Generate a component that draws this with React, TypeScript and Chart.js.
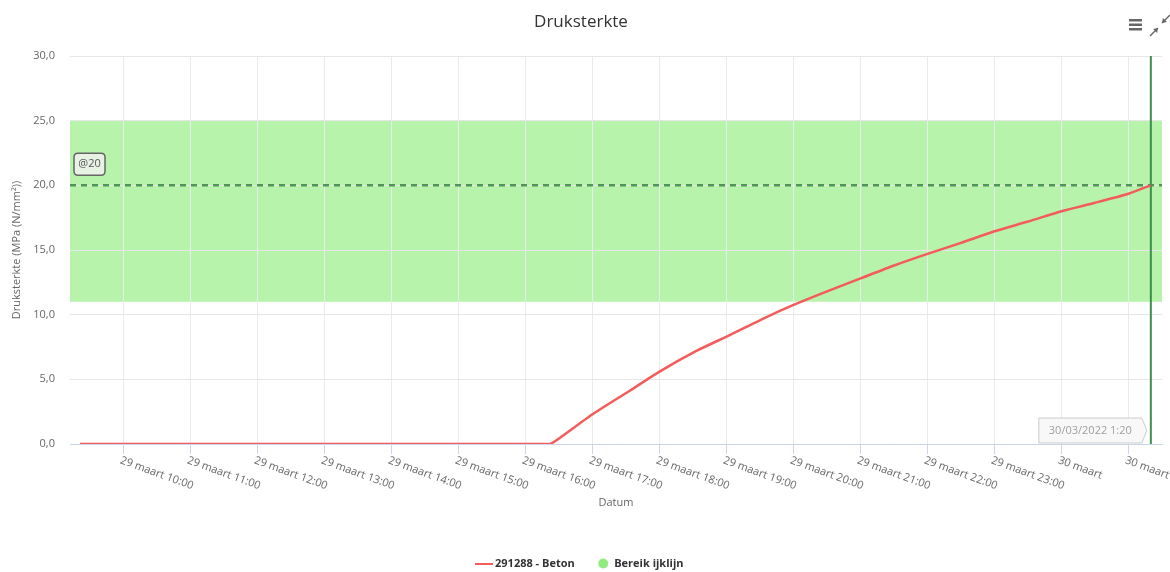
import React, { useEffect, useRef } from 'react';
import { Chart, registerables } from 'chart.js';

Chart.register(...registerables);

const FONT = '"Open Sans", "DejaVu Sans", sans-serif';

const chartTitle = 'Druksterkte';
const yAxisTitle = 'Druksterkte (MPa (N/mm²))';
const xAxisTitle = 'Datum';

// x axis in hours since 29 maart 00:00
const xMinHour = 9.2;
const xMaxHour = 25.5;
const xTickHours = [10, 11, 12, 13, 14, 15, 16, 17, 18, 19, 20, 21, 22, 23, 24, 25];
const xTickLabels = [
  '29 maart 10:00', '29 maart 11:00', '29 maart 12:00', '29 maart 13:00',
  '29 maart 14:00', '29 maart 15:00', '29 maart 16:00', '29 maart 17:00',
  '29 maart 18:00', '29 maart 19:00', '29 maart 20:00', '29 maart 21:00',
  '29 maart 22:00', '29 maart 23:00', '30 maart', '30 maart 01:00',
];
const yTicks = [0, 5, 10, 15, 20, 25, 30];

// Series: 291288 - Beton
const betonHours = [9.35, 16.36, 16.45, 17.0, 17.55, 18.0, 18.55, 19.0, 19.55, 20.0, 20.5, 21.0, 21.5, 22.0, 22.5, 23.0, 23.5, 24.0, 24.5, 25.0, 25.33];
const betonValues = [0, 0, 0.25, 2.3, 4.1, 5.6, 7.2, 8.3, 9.7, 10.75, 11.8, 12.8, 13.8, 14.7, 15.55, 16.45, 17.2, 18.0, 18.65, 19.35, 20.0];

// Bereik ijklijn (band)
const bandLow = 11;
const bandHigh = 25;
const targetValue = 20;
const targetLabel = '@20';
const measureHour = 25 + 20 / 60;
const measureLabel = '30/03/2022 1:20';

const legendLabels = ['291288 - Beton', 'Bereik ijklijn'];

const RED = '#f45b5b';
const GREEN = '#90ed7d';

function roundRect(ctx: CanvasRenderingContext2D, x: number, y: number, w: number, h: number, r: number) {
  ctx.beginPath();
  ctx.moveTo(x + r, y);
  ctx.lineTo(x + w - r, y);
  ctx.quadraticCurveTo(x + w, y, x + w, y + r);
  ctx.lineTo(x + w, y + h - r);
  ctx.quadraticCurveTo(x + w, y + h, x + w - r, y + h);
  ctx.lineTo(x + r, y + h);
  ctx.quadraticCurveTo(x, y + h, x, y + h - r);
  ctx.lineTo(x, y + r);
  ctx.quadraticCurveTo(x, y, x + r, y);
  ctx.closePath();
}

function arrow(ctx: CanvasRenderingContext2D, x1: number, y1: number, x2: number, y2: number) {
  ctx.beginPath();
  ctx.moveTo(x1, y1);
  ctx.lineTo(x2, y2);
  ctx.stroke();
  const a = Math.atan2(y2 - y1, x2 - x1);
  const L = 5;
  ctx.beginPath();
  ctx.moveTo(x2, y2);
  ctx.lineTo(x2 - L * Math.cos(a - 0.6), y2 - L * Math.sin(a - 0.6));
  ctx.lineTo(x2 - L * Math.cos(a + 0.6), y2 - L * Math.sin(a + 0.6));
  ctx.closePath();
  ctx.fill();
}

const decorPlugin = {
  id: 'decor',
  afterDraw(chart: any) {
    const ctx: CanvasRenderingContext2D = chart.ctx;
    const xs = chart.scales.x;
    const ys = chart.scales.y;
    const area = chart.chartArea;
    ctx.save();

    // rotated x tick labels
    ctx.font = `11px ${FONT}`;
    ctx.fillStyle = '#666';
    ctx.textAlign = 'left';
    ctx.textBaseline = 'middle';
    xs.ticks.forEach((t: any) => {
      const idx = xTickHours.indexOf(t.value);
      if (idx < 0) return;
      const px = xs.getPixelForValue(t.value);
      ctx.save();
      ctx.translate(px - 3, area.bottom + 16);
      ctx.rotate((20 * Math.PI) / 180);
      ctx.fillText(xTickLabels[idx], 0, 0);
      ctx.restore();
    });

    // target label box
    const y20 = ys.getPixelForValue(targetValue);
    const bx = area.left + 4;
    const by = y20 - 32;
    roundRect(ctx, bx, by, 31, 22, 4);
    ctx.fillStyle = 'rgba(236,242,235,0.9)';
    ctx.fill();
    ctx.lineWidth = 1.5;
    ctx.strokeStyle = '#666';
    ctx.stroke();
    ctx.fillStyle = '#555';
    ctx.textAlign = 'center';
    ctx.font = `11px ${FONT}`;
    ctx.fillText(targetLabel, bx + 15.5, by + 11);

    // crosshair label
    const mx = xs.getPixelForValue(measureHour);
    const right = mx - 9;
    const left = mx - 112;
    const top = area.bottom - 26;
    const bot = area.bottom - 1;
    ctx.beginPath();
    ctx.moveTo(left, top);
    ctx.lineTo(right, top);
    ctx.lineTo(right + 5, (top + bot) / 2);
    ctx.lineTo(right, bot);
    ctx.lineTo(left, bot);
    ctx.closePath();
    ctx.fillStyle = 'rgba(247,247,247,0.9)';
    ctx.fill();
    ctx.lineWidth = 1;
    ctx.strokeStyle = '#cccccc';
    ctx.stroke();
    ctx.fillStyle = '#a0a0a0';
    ctx.fillText(measureLabel, (left + right) / 2, (top + bot) / 2);

    // menu icon
    ctx.fillStyle = '#666';
    [19, 23.5, 28].forEach((y) => ctx.fillRect(1129, y, 13, 2.5));
    // compress icon
    ctx.strokeStyle = '#666';
    ctx.lineWidth = 1.5;
    arrow(ctx, 1150, 36, 1158, 28);
    arrow(ctx, 1170, 15, 1162, 23);

    ctx.restore();
  },
};

export default function App() {
  const ref = useRef<HTMLCanvasElement | null>(null);

  useEffect(() => {
    if (!ref.current) return;
    Chart.defaults.font.family = FONT;
    Chart.defaults.color = '#666';

    const lineImg = document.createElement('canvas');
    lineImg.width = 18;
    lineImg.height = 2;
    const lctx = lineImg.getContext('2d');
    if (lctx) {
      lctx.fillStyle = RED;
      lctx.fillRect(0, 0, 18, 2);
    }

    const chart = new Chart(ref.current, {
      type: 'line',
      data: {
        datasets: [
          {
            label: legendLabels[0],
            data: betonHours.map((h, i) => ({ x: h, y: betonValues[i] })),
            borderColor: RED,
            backgroundColor: RED,
            borderWidth: 2.5,
            pointRadius: 0,
            tension: 0.2,
            fill: false,
            order: 0,
          },
          {
            label: legendLabels[1],
            data: [
              { x: xMinHour, y: bandHigh },
              { x: xMaxHour, y: bandHigh },
            ],
            borderColor: 'transparent',
            borderWidth: 0,
            pointRadius: 0,
            backgroundColor: 'rgba(144,237,125,0.65)',
            fill: { value: bandLow },
            order: 3,
          },
          {
            label: 'target',
            data: [
              { x: xMinHour, y: targetValue },
              { x: xMaxHour, y: targetValue },
            ],
            borderColor: 'rgba(50,125,60,0.8)',
            borderDash: [6, 5],
            borderWidth: 2.5,
            pointRadius: 0,
            fill: false,
            order: 2,
          },
          {
            label: 'meting',
            data: [
              { x: measureHour, y: 0 },
              { x: measureHour, y: 30 },
            ],
            borderColor: '#3d8f50',
            borderWidth: 2,
            pointRadius: 0,
            fill: false,
            order: 1,
          },
        ],
      },
      options: {
        animation: false,
        responsive: false,
        events: [],
        layout: { padding: { left: 0, right: 8, top: 0, bottom: 0 } },
        plugins: {
          filler: { drawTime: 'beforeDraw' },
          tooltip: { enabled: false },
          title: {
            display: true,
            text: chartTitle,
            color: '#333',
            font: { family: FONT, size: 17, weight: 'normal' },
            padding: { top: 12, bottom: 23.6 },
          },
          legend: {
            position: 'bottom',
            labels: {
              usePointStyle: true,
              boxHeight: 7,
              padding: 23,
              color: '#333',
              font: { family: FONT, size: 11, weight: 'bold' },
              generateLabels: () => [
                {
                  text: legendLabels[0],
                  pointStyle: lineImg,
                  fillStyle: RED,
                  strokeStyle: RED,
                  lineWidth: 0,
                  hidden: false,
                  datasetIndex: 0,
                  fontColor: '#333',
                },
                {
                  text: legendLabels[1],
                  pointStyle: 'circle',
                  fillStyle: GREEN,
                  strokeStyle: GREEN,
                  lineWidth: 0,
                  hidden: false,
                  datasetIndex: 1,
                  fontColor: '#333',
                },
              ],
            },
          },
        },
        scales: {
          x: {
            type: 'linear',
            min: xMinHour,
            max: xMaxHour,
            afterBuildTicks: (s: any) => {
              s.ticks = xTickHours.map((v) => ({ value: v }));
            },
            afterFit: (s: any) => {
              s.height = 91;
            },
            ticks: { display: false },
            grid: { color: '#e8ebf0', tickColor: '#ccd6eb', tickLength: 10, drawTicks: true },
            border: { color: '#ccd6eb', width: 1 },
            title: {
              display: true,
              text: xAxisTitle,
              color: '#666',
              font: { family: FONT, size: 11 },
              padding: { top: 0, bottom: 25.4 },
            },
          },
          y: {
            type: 'linear',
            min: 0,
            max: 30,
            afterBuildTicks: (s: any) => {
              s.ticks = yTicks.map((v) => ({ value: v }));
            },
            afterFit: (s: any) => {
              s.width = 70;
            },
            ticks: {
              color: '#666',
              font: { family: FONT, size: 11 },
              padding: 15,
              callback: (v: any) => Number(v).toFixed(1).replace('.', ','),
            },
            grid: { color: '#e6e6e6', drawTicks: false },
            border: { display: false },
            title: {
              display: true,
              text: yAxisTitle,
              color: '#666',
              font: { family: FONT, size: 11 },
              padding: { top: 10, bottom: 0 },
            },
          },
        },
      },
      plugins: [decorPlugin],
    } as any);

    return () => chart.destroy();
  }, []);

  return (
    <div
      style={{
        position: 'fixed',
        left: 0,
        top: 0,
        width: 1170,
        height: 572,
        overflow: 'hidden',
        background: '#fff',
      }}
    >
      <canvas ref={ref} width={1170} height={579} style={{ display: 'block' }} />
    </div>
  );
}
